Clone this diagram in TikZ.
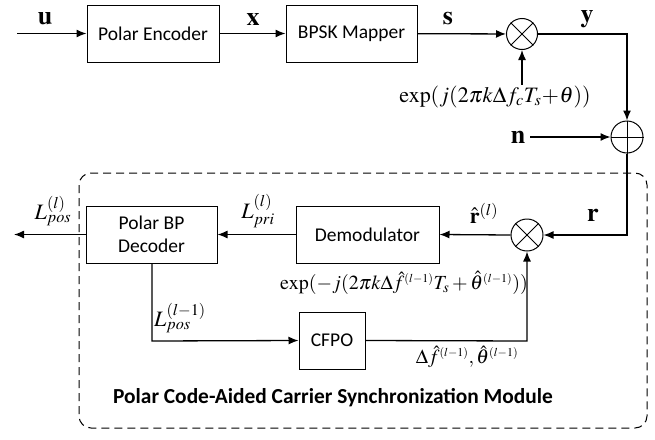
\documentclass[tikz,border=0pt]{standalone}
\usepackage{mathptmx}
\usepackage[no-math]{fontspec}
\newfontfamily\boxfont{Carlito}
\usetikzlibrary{arrows.meta}
\newcommand{\ssup}[1]{^{\scriptscriptstyle #1}}
\begin{document}
\begin{tikzpicture}[x=1pt,y=-1pt,
  blk/.style={draw,line width=1pt,minimum width=#1,minimum height=57pt,inner sep=0pt,font=\boxfont\fontsize{19.5}{23}\selectfont,align=center},
  opc/.style={draw,circle,line width=1pt,minimum size=31pt,inner sep=0pt},
  conn/.style={line width=1.3pt,-{Latex[length=10pt,width=8pt]}},
  lab/.style={inner sep=1pt,font=\fontsize{22}{24}\selectfont},
  blab/.style={inner sep=1pt,font=\fontsize{26}{28}\selectfont}]
\useasboundingbox (0,0) rectangle (655,439);
\draw[dashed,dash pattern=on 8pt off 5pt,line width=1pt,rounded corners=12pt] (79,173) rectangle (647,428);
\node[blk=132pt] (enc) at (153,33.5) {Polar Encoder};
\node[blk=131pt] (map) at (351.5,33.5) {BPSK Mapper};
\node[opc] (m1) at (522,34) {};
\draw[line width=1pt] (m1.45)--(m1.225) (m1.135)--(m1.315);
\node[opc,minimum size=32pt] (p) at (627,137) {};
\draw[line width=1pt] (p.north)--(p.south) (p.west)--(p.east);
\node[blk=143pt] (dem) at (367.5,234.5) {Demodulator};
\node[blk=131pt] (dec) at (151.5,234.5) {Polar BP\\Decoder};
\node[opc,minimum size=32pt] (m2) at (527,235) {};
\draw[line width=1pt] (m2.45)--(m2.225) (m2.135)--(m2.315);
\node[blk=66pt] (cfpo) at (332,340.5) {CFPO};
\coordinate (in) at (17,33.5);
\coordinate (out) at (14,234.5);
\coordinate (c1) at (627,34);
\coordinate (c2) at (627,235);
\coordinate (c3) at (152,341);
\coordinate (c4) at (527,341);
\node[blab] (lu) at (45,19) {$\mathbf{u}$};
\node[blab] (lx) at (253,19) {$\mathbf{x}$};
\node[blab] (ls) at (448,19) {$\mathbf{s}$};
\node[blab] (ly) at (587,19) {$\mathbf{y}$};
\node[lab] (le) at (495,97) {$\exp(j(2\pi k\Delta f_c T_s\!+\!\theta))$};
\node[blab] (ln) at (518,137) {$\mathbf{n}$};
\node[blab] (lr) at (593,215) {$\mathbf{r}$};
\node[lab] (lrh) at (484,213) {$\hat{\mathbf{r}}^{(l)}$};
\node[lab] (lpri) at (258,211) {$L_{pri}^{(l)}$};
\node[lab] (lpos) at (53,211) {$L_{pos}^{(l)}$};
\node[lab] (lpos1) at (180,318) {$L_{pos}^{(l-1)}$};
\node[lab,font=\fontsize{20}{22}\selectfont] (ldf) at (467,357) {$\Delta\hat{f}\ssup{(l-1)},\hat{\theta}\ssup{(l-1)}$};
\node[lab,font=\fontsize{20}{22}\selectfont] (le2) at (404,283) {$\exp(\mathbf{-}j(2\pi k\Delta\hat{f}\ssup{(l-1)}T_s+\hat{\theta}\ssup{(l-1)}))$};
\node[font=\boxfont\bfseries\fontsize{21.4}{24}\selectfont] (mod) at (333,398) {Polar Code-Aided Carrier Synchronization Module};
\draw[conn] (in) -- (enc);
\draw[conn] (enc) -- (map);
\draw[conn] (map) -- (m1);
\draw[conn] (m1.east) -- (c1) -- (p.north);
\draw[conn] (le.north -| m1) -- (m1.south);
\draw[conn] (ln.east) ++(4,0) -- (p.west);
\draw[conn] (p.south) -- (c2) -- (m2.east);
\draw[conn] (m2.west) -- (dem.east);
\draw[conn] (dem.west) -- (dec.east);
\draw[conn] (dec.west) -- (out);
\draw[conn] (dec.south -| c3) -- (c3) -- (cfpo.west);
\draw[conn] (cfpo.east) -- (c4) -- (m2.south);
\end{tikzpicture}
\end{document}
